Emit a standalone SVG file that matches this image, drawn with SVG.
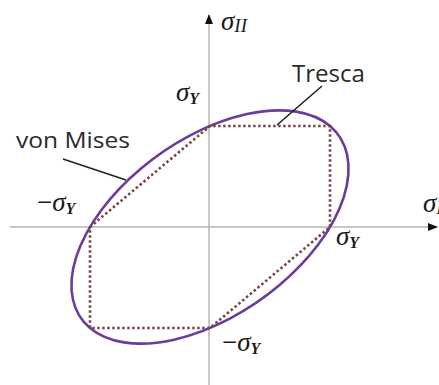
<svg xmlns="http://www.w3.org/2000/svg" width="439" height="385" viewBox="0 0 439 385">
<style>
.axis{stroke:#b4b4b4;stroke-width:1.5;fill:none}
.lead{stroke:#222;stroke-width:1.6;fill:none}
.vm{stroke:#6b3c9c;stroke-width:2.6;fill:none}
.tr{stroke:#7a4444;stroke-width:2.6;fill:none;stroke-dasharray:2.5 2.5}
.lbl{font-family:"Open Sans","Liberation Sans",sans-serif;fill:#2a2a2a}
.m{font-family:"Liberation Serif","DejaVu Serif",serif;font-style:italic;fill:#1a1a1a}
.s{font-size:16px;font-weight:bold}
</style>
<defs>
<marker id="ah" markerWidth="10" markerHeight="10" refX="9" refY="5" orient="auto" markerUnits="userSpaceOnUse">
<path d="M0,1 L10,5 L0,9 Z" fill="#111"/>
</marker>
</defs>
<rect width="439" height="385" fill="#fff"/>
<g id="axes">
<line class="axis" x1="10" y1="227" x2="437" y2="227" marker-end="url(#ah)"/>
<line class="axis" x1="209" y1="385" x2="209" y2="15" marker-end="url(#ah)"/>
</g>
<g id="vonMises">
<g transform="translate(210,227) scale(120,-101) rotate(45)">
<ellipse class="vm" cx="0" cy="0" rx="1.41421" ry="0.8165" vector-effect="non-scaling-stroke"/>
</g>
</g>
<g id="tresca">
<polygon class="tr" points="90,227 210,126 330,126 330,227 210,328 90,328"/>
</g>
<g id="connectors">
<line class="lead" x1="322" y1="86" x2="277" y2="125"/>
<line class="lead" x1="63" y1="159" x2="126" y2="180"/>
</g>
<g id="labels">
<text class="lbl" x="292" y="82" font-size="23" textLength="73" lengthAdjust="spacingAndGlyphs">Tresca</text>
<text class="lbl" x="16" y="148" font-size="21" textLength="114" lengthAdjust="spacingAndGlyphs">von Mises</text>
<text class="m" x="221" y="30" font-size="27">σ<tspan font-size="19" dy="2">II</tspan></text>
<text class="m" x="176" y="101" font-size="27">σ<tspan class="s" dy="3">Y</tspan></text>
<text class="m" x="37" y="211" font-size="27"><tspan font-style="normal">−</tspan>σ<tspan class="s" dy="3">Y</tspan></text>
<text class="m" x="336" y="245" font-size="27">σ<tspan class="s" dy="3">Y</tspan></text>
<text class="m" x="222" y="351" font-size="27"><tspan font-style="normal">−</tspan>σ<tspan class="s" dy="3">Y</tspan></text>
<text class="m" x="423" y="212" font-size="27">σ<tspan font-size="19" dy="2">I</tspan></text>
</g>
</svg>
